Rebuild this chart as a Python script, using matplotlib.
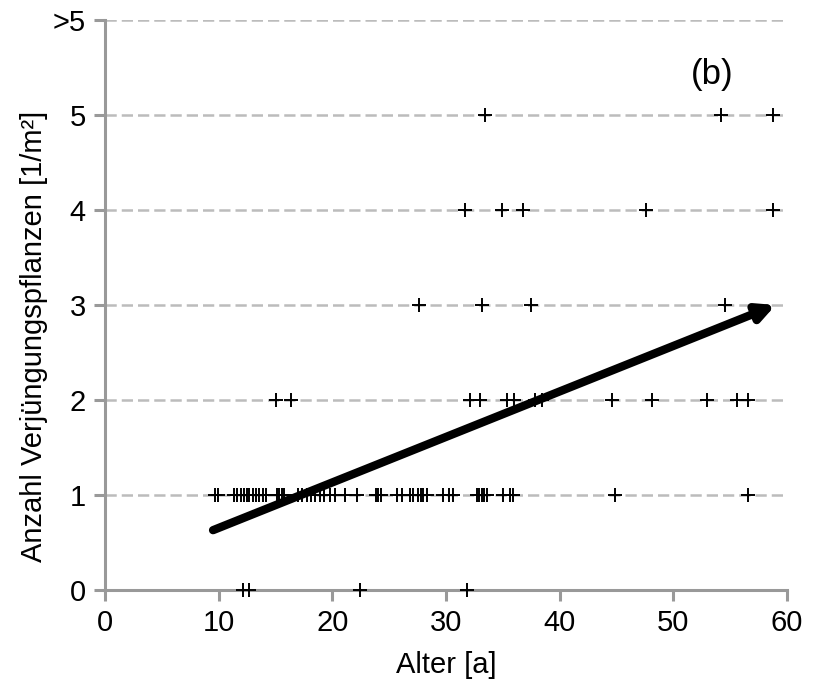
import matplotlib.pyplot as plt

# data: Alter [a] vs. Anzahl Verjuengungspflanzen
age_0 = [12.1, 12.7, 22.4, 31.8]
age_1 = [9.7, 9.9, 11.3, 11.6, 12.0, 12.2, 12.5, 12.7, 13.0, 13.3, 13.5, 13.9, 14.2,
         15.1, 15.3, 15.6, 15.7, 17.0, 17.3, 17.8, 18.1, 18.5, 18.9, 19.3, 19.8, 20.2,
         21.1, 22.2, 23.8, 24.0, 24.3, 25.7, 26.1, 26.8, 27.1, 27.5, 27.8, 28.0, 28.3,
         29.7, 30.3, 30.6, 32.7, 32.9, 33.2, 33.3, 33.6, 35.0, 35.6, 35.9, 44.9, 56.6]
age_2 = [15.0, 16.4, 32.1, 33.0, 35.4, 36.0, 37.8, 38.4, 44.6, 48.1, 53.0, 55.6, 56.6]
age_3 = [27.6, 33.2, 37.5, 54.5]
age_4 = [31.7, 34.9, 36.8, 47.6, 58.8]
age_5 = [33.4, 54.2, 58.8]

groups = [(age_0, 0), (age_1, 1), (age_2, 2), (age_3, 3), (age_4, 4), (age_5, 5)]

y_ticks = [0, 1, 2, 3, 4, 5, 6]
y_labels = ['0', '1', '2', '3', '4', '5', '>5']
x_ticks = [0, 10, 20, 30, 40, 50, 60]

trend_start = (9.5, 0.63)
trend_end = (59.0, 3.0)

plt.rcParams['font.family'] = ['Liberation Sans', 'DejaVu Sans']

fig = plt.figure(figsize=(8.21, 6.97), dpi=100)
ax = fig.add_axes([0.128, 0.1535, 0.8306, 0.8178])

for y in y_ticks[1:]:
    ax.axhline(y, color='#bcbcbc', linestyle=(0, (4.5, 2)), linewidth=1.8, zorder=1)

for ages, n in groups:
    ax.plot(ages, [n] * len(ages), linestyle='none', marker='+', color='black',
            markersize=10, markeredgewidth=1.4, zorder=3, clip_on=False)

ax.annotate('', xy=trend_end, xytext=trend_start,
            arrowprops=dict(arrowstyle='-|>,head_length=1.0,head_width=0.5',
                            color='black', lw=6, shrinkA=0, shrinkB=0), zorder=4)

ax.set_xlim(0, 60)
ax.set_ylim(0, 6)
ax.set_xticks(x_ticks)
ax.set_yticks(y_ticks)
ax.set_yticklabels(y_labels)

for side in ['top', 'right']:
    ax.spines[side].set_visible(False)
for side in ['left', 'bottom']:
    ax.spines[side].set_color('#999999')
    ax.spines[side].set_linewidth(2.2)

ax.tick_params(axis='both', direction='out', length=8, width=2.2, color='#999999',
               labelsize=21, pad=6)

ax.set_xlabel('Alter [a]', fontsize=21, labelpad=10)
ax.set_ylabel('Anzahl Verjüngungspflanzen [1/m²]', fontsize=21)
ax.yaxis.set_label_coords(-0.083, 0.445)

ax.text(0.89, 0.905, '(b)', transform=ax.transAxes, fontsize=25, ha='center', va='center')

plt.savefig('out.png', dpi=100)
